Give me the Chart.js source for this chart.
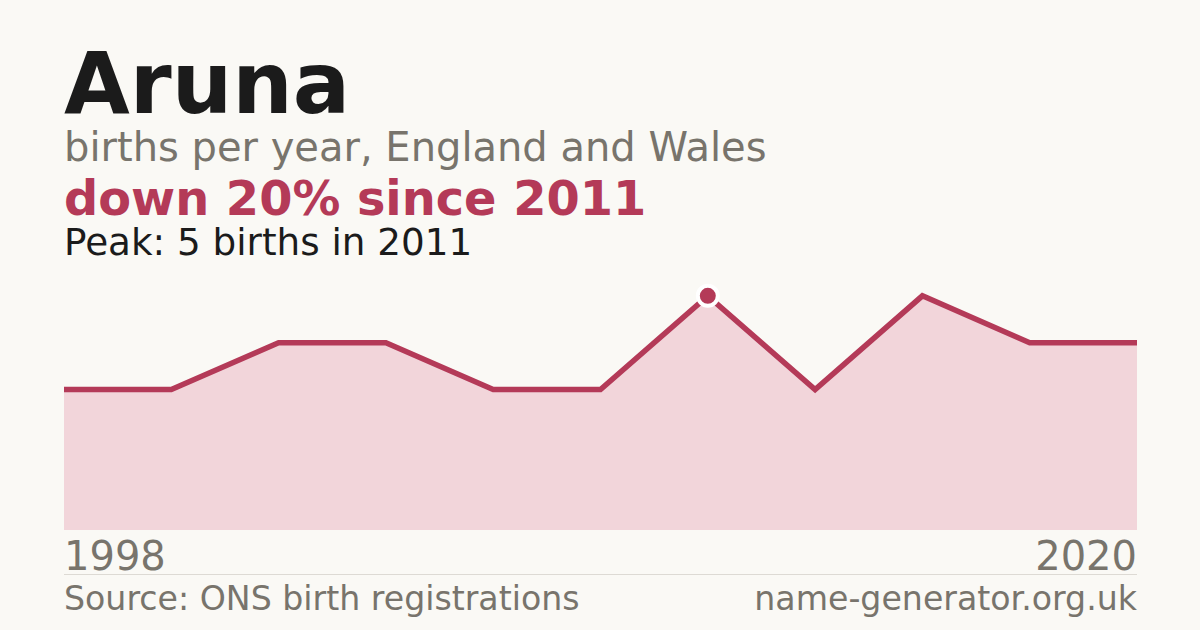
<!DOCTYPE html>
<html>
<head>
<meta charset="utf-8">
<script src="https://cdn.jsdelivr.net/npm/chart.js@4"></script>
<style>
  html, body { margin: 0; padding: 0; }
  body {
    width: 1200px; height: 630px; position: relative; overflow: hidden;
    background: #faf9f5; font-family: "DejaVu Sans", sans-serif;
  }
  .t { position: absolute; line-height: 1; white-space: nowrap; margin: 0; }
  #title { left: 64px; top: 41px; font-size: 85px; font-weight: bold; color: #1b1b1b; }
  #sub { left: 64px; top: 127px; font-size: 40px; color: #78746c; }
  #change { left: 64px; top: 175px; font-size: 47.8px; font-weight: bold; color: #b43a58; }
  #peak { left: 64px; top: 224px; font-size: 37.3px; color: #1b1b1b; }
  #firstYear { left: 64px; top: 536px; font-size: 40px; color: #78746c; }
  #lastYear { right: 63px; top: 536px; font-size: 40px; color: #78746c; }
  #rule { position: absolute; left: 64px; width: 1073px; top: 574px; height: 1px; background: #dddad4; }
  #source { left: 64px; top: 582px; font-size: 33.2px; color: #78746c; }
  #site { right: 63px; top: 582px; font-size: 33.2px; color: #78746c; }
  #wrap { position: absolute; left: 64px; top: 249px; width: 1073px; height: 281px; }
</style>
</head>
<body>
<div class="t" id="title"></div>
<div class="t" id="sub"></div>
<div class="t" id="change"></div>
<div class="t" id="peak"></div>
<div id="wrap"><canvas id="nameChart"></canvas></div>
<div class="t" id="firstYear"></div>
<div class="t" id="lastYear"></div>
<div id="rule"></div>
<div class="t" id="source"></div>
<div class="t" id="site"></div>
<script>
const name = 'Aruna';
const years = ['1998', '2000', '2003', '2005', '2007', '2009', '2011', '2013', '2016', '2018', '2020'];
const births = [3, 3, 4, 4, 3, 3, 5, 3, 5, 4, 4];
const peakYear = '2011';

const peakIndex = years.indexOf(peakYear);
const peakValue = births[peakIndex];
const lastValue = births[births.length - 1];
const change = Math.round((lastValue - peakValue) / peakValue * 100);

document.getElementById('title').textContent = name;
document.getElementById('sub').textContent = 'births per year, England and Wales';
document.getElementById('change').textContent = (change < 0 ? 'down ' : 'up ') + Math.abs(change) + '% since ' + peakYear;
document.getElementById('peak').textContent = 'Peak: ' + peakValue + ' births in ' + peakYear;
document.getElementById('firstYear').textContent = years[0];
document.getElementById('lastYear').textContent = years[years.length - 1];
document.getElementById('source').textContent = 'Source: ONS birth registrations';
document.getElementById('site').textContent = 'name-generator.org.uk';

const ctx = document.getElementById('nameChart').getContext('2d');
new Chart(ctx, {
  type: 'line',
  data: {
    labels: years,
    datasets: [{
      data: births,
      borderColor: '#b43a58',
      borderWidth: 5.5,
      backgroundColor: '#f2d5da',
      fill: 'origin',
      tension: 0,
      clip: false,
      // only the peak gets a marker
      pointRadius: births.map((v, i) => i === peakIndex ? 10 : 0),
      pointBackgroundColor: '#b43a58',
      pointBorderColor: '#ffffff',
      pointBorderWidth: 4
    }]
  },
  options: {
    responsive: true,
    maintainAspectRatio: false,
    animation: false,
    layout: { padding: 0 },
    plugins: { legend: { display: false }, tooltip: { enabled: false } },
    scales: {
      x: { display: false, offset: false },
      y: { display: false, min: 0, max: 6 }
    }
  }
});
</script>
</body>
</html>
